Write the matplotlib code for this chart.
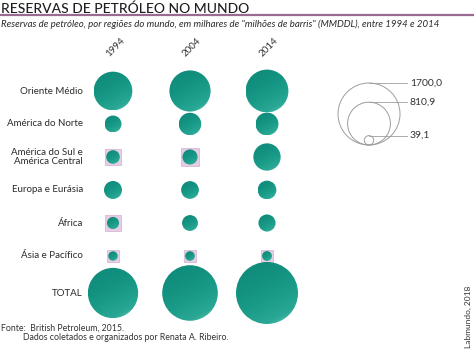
import numpy as np
import matplotlib
matplotlib.use("Agg")
import matplotlib.pyplot as plt
from matplotlib.patches import Circle, Rectangle
from matplotlib.colors import LinearSegmentedColormap

plt.rcParams['font.family'] = ['Lato', 'DejaVu Sans']

# dados (milhares de milhões de barris)
regioes = ['Oriente Médio', 'América do Norte', 'América do Sul e\nAmérica Central',
           'Europa e Eurásia', 'África', 'Ásia e Pacífico', 'TOTAL']
anos = ['1994', '2004', '2014']
v1994 = [661.7, 127.0, 81.5, 143.7, 65.0, 39.1, 1118.0]
v2004 = [750.1, 223.2, 101.2, 139.2, 111.3, 40.8, 1366.2]
v2014 = [810.7, 232.5, 330.2, 154.8, 129.2, 42.7, 1700.1]
# regiões marcadas com quadrado rosa
marca1994 = [False, False, True, False, True, True, False]
marca2004 = [False, False, True, False, False, True, False]
marca2014 = [False, False, False, False, False, True, False]
legenda = [1700.0, 810.9, 39.1]
legenda_txt = ['1700,0', '810,9', '39,1']

valores = [v1994, v2004, v2014]
marcas = [marca1994, marca2004, marca2014]

W, H = 474, 354
fig = plt.figure(figsize=(W / 100, H / 100), dpi=100)
ax = fig.add_axes([0, 0, 1, 1])
ax.set_xlim(0, W)
ax.set_ylim(H, 0)
ax.axis('off')

R = 31.0  # raio para 1700
def raio(v):
    return R * np.sqrt(v / 1700.0)

cmap = LinearSegmentedColormap.from_list('teal', ['#108c7b', '#1a9c89', '#2aa895', '#74d0bf'])
gx, gy = np.meshgrid(np.linspace(0, 1, 64), np.linspace(0, 1, 64))
grad = np.clip(0.35 * gx + 0.65 * gy, 0, 1) ** 2

col_x = [113, 190, 267]
row_y = [91, 124, 157, 190, 223, 256, 293]

for j, (vals, mk) in enumerate(zip(valores, marcas)):
    for i, v in enumerate(vals):
        cx, cy = col_x[j], row_y[i]
        r = raio(v)
        if mk[i]:
            s = 2 * r + 3
            ax.add_patch(Rectangle((cx - s / 2, cy - s / 2), s, s, facecolor='#e6cde5',
                                   edgecolor='#d3b0d0', lw=0.5, zorder=1))
        c = Circle((cx, cy), r, facecolor='none', edgecolor='none', zorder=2)
        ax.add_patch(c)
        im = ax.imshow(grad, cmap=cmap, extent=[cx - r, cx + r, cy + r, cy - r],
                       interpolation='bilinear', zorder=2, aspect='auto')
        im.set_clip_path(c)

ax.set_xlim(0, W)
ax.set_ylim(H, 0)

# rótulos das regiões
for i, nome in enumerate(regioes):
    ax.text(83, row_y[i], nome, ha='right', va='center', fontsize=7, color='#2b2b2b',
            linespacing=0.9)

# anos
for j, a in enumerate(anos):
    ax.text(col_x[j] + 2, 47, a, rotation=45, ha='center', va='center', fontsize=7,
            color='#333333')

# legenda
lx, lb = 369, 145
for v, t in zip(legenda, legenda_txt):
    r = raio(v)
    ax.add_patch(Circle((lx, lb - r), r, facecolor='none', edgecolor='#9d9d9d', lw=0.7))
    ax.plot([lx, 407], [lb - 2 * r, lb - 2 * r], color='#9d9d9d', lw=0.6)
    ax.text(410, lb - 2 * r, t, ha='left', va='center', fontsize=7.5, color='#333333')

# título
ax.text(1, 9, 'RESERVAS DE PETRÓLEO NO MUNDO', ha='left', va='center', fontsize=10,
        color='#1e1e1e', fontweight='medium')
ax.plot([0, W], [15, 15], color='#9a6a90', lw=1.6)
ax.text(1, 24.5, 'Reservas de petróleo, por regiões do mundo, em milhares de "milhões de barris" '
        '(MMDDL), entre 1994 e 2014', ha='left', va='center', fontsize=6.9,
        style='italic', color='#2b2b2b')

# fonte
ax.text(1, 328, 'Fonte:  British Petroleum, 2015.', ha='left', va='center', fontsize=6.3,
        color='#333333')
ax.text(23, 338, 'Dados coletados e organizados por Renata A. Ribeiro.', ha='left',
        va='center', fontsize=6.3, color='#333333')
ax.text(468, 317, 'Labmundo, 2018', rotation=90, ha='center', va='center', fontsize=6,
        color='#333333')

fig.savefig('out.png', dpi=100)
